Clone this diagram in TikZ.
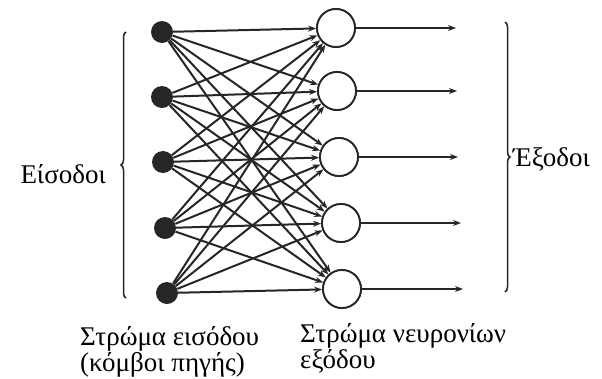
\documentclass[tikz,border=0pt]{standalone}
\usepackage{fontspec}
\setmainfont{Liberation Serif}
\usetikzlibrary{arrows.meta,decorations.pathreplacing}
\begin{document}
\begin{tikzpicture}[x=1pt,y=-1pt,
  inp/.style={circle,fill=black!85,inner sep=0pt,minimum size=22pt},
  outn/.style={circle,draw=black!85,line width=1.8pt,fill=white,inner sep=0pt,minimum size=38pt},
  conn/.style={draw=black!85,line width=2pt,-{Stealth[length=8pt,width=6pt]}},
  br/.style={draw=black!85,line width=1.5pt,decorate,decoration={brace,amplitude=5pt}},
  lbl/.style={font=\fontsize{27}{24}\selectfont,inner sep=0pt}]
\useasboundingbox (0,0) rectangle (602,378);
\node[inp] (i1) at (162,32) {};
\node[inp] (i2) at (162,97) {};
\node[inp] (i3) at (163,162) {};
\node[inp] (i4) at (165,228) {};
\node[inp] (i5) at (167,293) {};
\node[outn] (o1) at (336,28) {};
\node[outn] (o2) at (337,91) {};
\node[outn] (o3) at (339,157) {};
\node[outn] (o4) at (341,223) {};
\node[outn] (o5) at (342,289) {};
\coordinate (e1) at (456,28);
\coordinate (e2) at (457,91);
\coordinate (e3) at (458,157);
\coordinate (e4) at (461,223);
\coordinate (e5) at (463,289);
\foreach \i in {1,...,5}{
  \foreach \j in {1,...,5}{
    \draw[conn] (i\i) -- (o\j);
  }
}
\foreach \j in {1,...,5}{
  \node[outn] at (o\j) {};
  \draw[conn] (o\j) -- (e\j);
}
\coordinate (lb1) at (126,298);
\coordinate (lb2) at (126,32);
\coordinate (rb1) at (505,22);
\coordinate (rb2) at (505,292);
\draw[br] (lb1) -- (lb2);
\draw[br] (rb1) -- (rb2);
\node[lbl,anchor=base east] (in) at (106,183) {Είσοδοι};
\node[lbl,anchor=base west] (out) at (513,166) {Έξοδοι};
\node[lbl,anchor=north west,align=left] (l1) at (80,326) {Στρώμα εισόδου\\(κόμβοι πηγής)};
\node[lbl,anchor=north west,align=left] (l2) at (300,323) {Στρώμα νευρονίων\\εξόδου};
\end{tikzpicture}
\end{document}
